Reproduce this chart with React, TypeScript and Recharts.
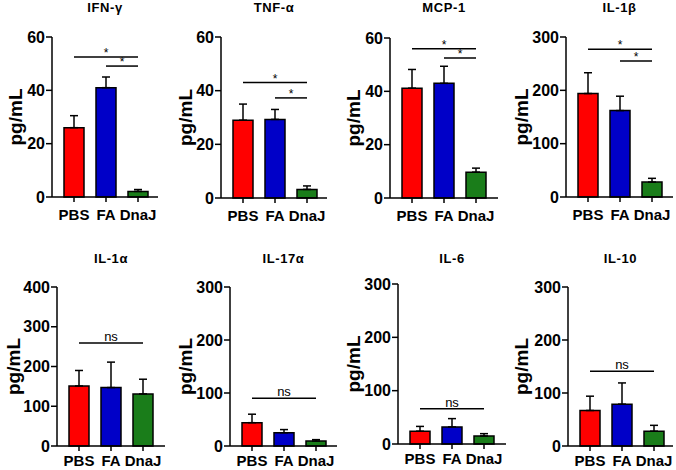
import { BarChart, Bar, XAxis, YAxis, Cell, ErrorBar, ReferenceLine } from 'recharts';

const groups = ['PBS', 'FA', 'DnaJ'];
const barColors = ['#ff0000', '#0000c8', '#1a7d1a'];

const ifnMean = [26, 41, 2.1];
const ifnSd = [4.5, 4, 0.7];
const tnfMean = [29, 29.3, 3.2];
const tnfSd = [6, 3.7, 1.3];
const mcpMean = [41.2, 43, 9.7];
const mcpSd = [7, 6.4, 1.5];
const il1bMean = [194, 162, 28];
const il1bSd = [39, 27, 7];
const il1aMean = [151, 147, 131];
const il1aSd = [39, 64, 37];
const il17Mean = [44, 25, 9.4];
const il17Sd = [16, 6, 2.6];
const il6Mean = [24, 32, 15];
const il6Sd = [9, 15.6, 4.4];
const il10Mean = [67, 79, 28];
const il10Sd = [27, 40, 11];

// significance bars: [from, to, height, mark]
const ifnSig = [['PBS', 'DnaJ', 52.5, '*'], ['FA', 'DnaJ', 49.1, '*']];
const tnfSig = [['PBS', 'DnaJ', 43, '*'], ['FA', 'DnaJ', 37.3, '*']];
const mcpSig = [['PBS', 'DnaJ', 56, '*'], ['FA', 'DnaJ', 52.5, '*']];
const il1bSig = [['PBS', 'DnaJ', 277, '*'], ['FA', 'DnaJ', 255, '*']];
const il1aSig = [['PBS', 'DnaJ', 259, 'ns']];
const il17Sig = [['PBS', 'DnaJ', 90, 'ns']];
const il6Sig = [['PBS', 'DnaJ', 66, 'ns']];
const il10Sig = [['PBS', 'DnaJ', 141, 'ns']];

const ticks60 = [0, 20, 40, 60];
const ticks300 = [0, 100, 200, 300];
const ticks400 = [0, 100, 200, 300, 400];

const panels = [
  { title: 'IFN-γ', mean: ifnMean, sd: ifnSd, sig: ifnSig, ticks: ticks60 },
  { title: 'TNF-α', mean: tnfMean, sd: tnfSd, sig: tnfSig, ticks: ticks60 },
  { title: 'MCP-1', mean: mcpMean, sd: mcpSd, sig: mcpSig, ticks: ticks60 },
  { title: 'IL-1β', mean: il1bMean, sd: il1bSd, sig: il1bSig, ticks: ticks300 },
  { title: 'IL-1α', mean: il1aMean, sd: il1aSd, sig: il1aSig, ticks: ticks400 },
  { title: 'IL-17α', mean: il17Mean, sd: il17Sd, sig: il17Sig, ticks: ticks300 },
  { title: 'IL-6', mean: il6Mean, sd: il6Sd, sig: il6Sig, ticks: ticks300 },
  { title: 'IL-10', mean: il10Mean, sd: il10Sd, sig: il10Sig, ticks: ticks300 },
];

// layout: cell left/top, y-axis x, x-axis end, plot top/bottom, label distance
const layout = [
  { cx: 0, cy: 0, ax: 52, xe: 158, pt: 37, pb: 197, lo: 37 },
  { cx: 170, cy: 0, ax: 221, xe: 327, pt: 37, pb: 198, lo: 36 },
  { cx: 340, cy: 0, ax: 390, xe: 498, pt: 38, pb: 198, lo: 37 },
  { cx: 506, cy: 0, ax: 566, xe: 673, pt: 37, pb: 197, lo: 45 },
  { cx: 0, cy: 235, ax: 57, xe: 165, pt: 287, pb: 446, lo: 44 },
  { cx: 170, cy: 235, ax: 230, xe: 337, pt: 287, pb: 446, lo: 45 },
  { cx: 340, cy: 235, ax: 398, xe: 506, pt: 284, pb: 444, lo: 45 },
  { cx: 506, cy: 235, ax: 568, xe: 673, pt: 287, pb: 446, lo: 47 },
];

const font = '"Liberation Sans", Arial, sans-serif';
const xTickStyle = { fill: '#000', fontSize: 15, fontWeight: 700, fontFamily: font };
const yTickStyle = { fill: '#000', fontSize: 16, fontWeight: 700, fontFamily: font };

const Panel = ({ p, l }: { p: (typeof panels)[number]; l: (typeof layout)[number] }) => {
  const data = groups.map((g, i) => ({ group: g, mean: p.mean[i], err: [0, p.sd[i]] }));
  const yW = l.ax - l.cx;
  const plotW = l.xe - l.ax;
  const chartW = l.xe - l.cx + 3;
  const cellH = 235;
  const xH = cellH - (l.pb - l.cy);
  const max = p.ticks[p.ticks.length - 1];
  const topRow = l.cy === 0;
  return (
    <>
      <div
        style={{
          position: 'absolute',
          left: l.ax,
          width: plotW,
          top: topRow ? 1 : 252,
          textAlign: 'center',
          fontFamily: font,
          fontWeight: 700,
          fontSize: 13,
          letterSpacing: 0.6,
          lineHeight: '14px',
        }}
      >
        {p.title}
      </div>
      <div style={{ position: 'absolute', left: l.cx, top: l.cy }}>
        <BarChart
          width={chartW}
          height={cellH}
          data={data}
          margin={{ top: l.pt - l.cy, right: 3, left: 0, bottom: 0 }}
          barSize={20}
        >
          <XAxis
            dataKey="group"
            height={xH}
            interval={0}
            tick={xTickStyle}
            tickSize={5}
            tickMargin={topRow ? 7 : 4}
            stroke="#000"
            strokeWidth={1.5}
            padding={{ left: 6, right: plotW - 102 }}
          />
          <YAxis
            width={yW}
            domain={[0, max]}
            ticks={p.ticks}
            interval={0}
            tick={yTickStyle}
            tickSize={6}
            tickMargin={1}
            stroke="#000"
            strokeWidth={1.5}
            label={{
              value: 'pg/mL',
              angle: -90,
              position: 'center',
              dx: yW / 2 - l.lo,
              fill: '#000',
              fontSize: 19,
              fontWeight: 700,
              fontFamily: font,
            }}
          />
          <Bar dataKey="mean" stroke="#000" strokeWidth={1.5} isAnimationActive={false}>
            {data.map((d, i) => (
              <Cell key={d.group} fill={barColors[i]} />
            ))}
            <ErrorBar dataKey="err" width={4} stroke="#000" strokeWidth={1.5} direction="y" />
          </Bar>
          {p.sig.map(([from, to, y, mark], i) => (
            <ReferenceLine
              key={i}
              segment={[
                { x: from as string, y: y as number },
                { x: to as string, y: y as number },
              ]}
              stroke="#000"
              strokeWidth={1.5}
              label={{
                value: mark as string,
                position: 'top',
                offset: mark === '*' ? 0 : 2,
                fill: '#000',
                fontSize: mark === '*' ? 12 : 13,
                fontFamily: font,
              }}
            />
          ))}
        </BarChart>
      </div>
    </>
  );
};

export default function App() {
  return (
    <div style={{ position: 'absolute', left: 0, top: 0, width: 676, height: 470, background: '#fff' }}>
      {panels.map((p, i) => (
        <Panel key={p.title} p={p} l={layout[i]} />
      ))}
    </div>
  );
}
